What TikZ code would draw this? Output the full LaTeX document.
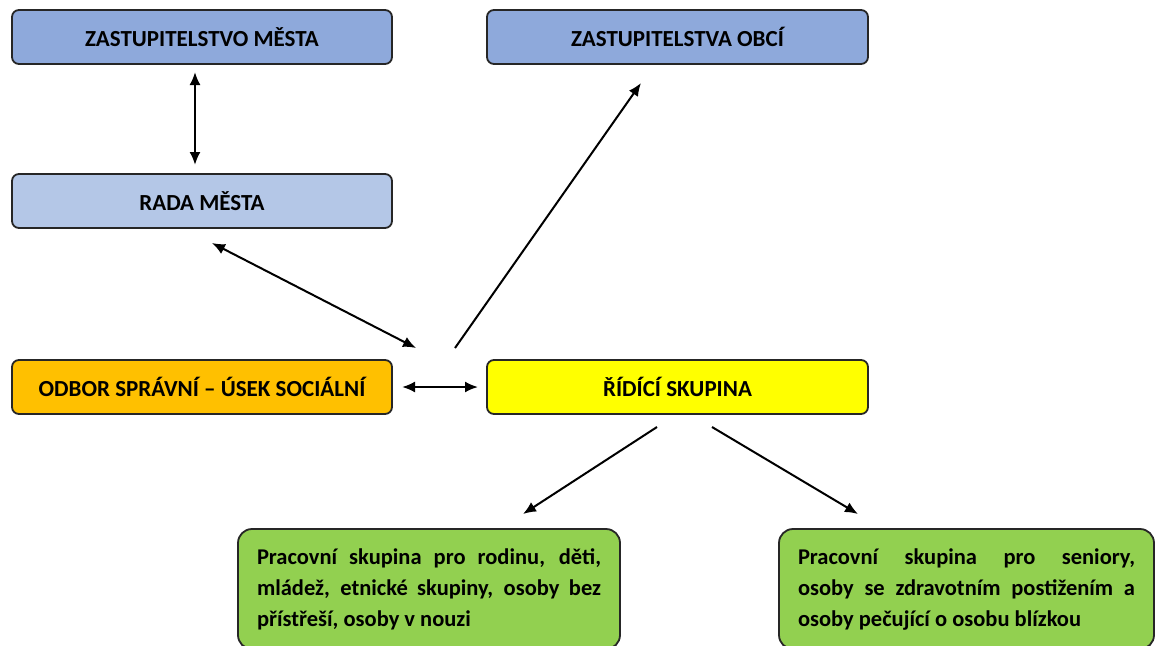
\documentclass[tikz,border=0pt]{standalone}
\usepackage{fontspec}
\setmainfont{Carlito}
\usetikzlibrary{arrows.meta}
\definecolor{modra}{HTML}{8EA9DB}
\definecolor{svmodra}{HTML}{B4C7E7}
\definecolor{oranz}{HTML}{FFC000}
\definecolor{zluta}{HTML}{FFFF00}
\definecolor{zelena}{HTML}{92D050}
\tikzset{
  box/.style={draw=black!85, line width=1.8pt, rounded corners=7pt, minimum height=54pt,
    font=\fontsize{23}{27}\selectfont\bfseries, inner sep=0pt},
  skupina/.style={box, rounded corners=14pt, minimum height=120pt, align=justify,
    font=\fontsize{22.5}{31}\selectfont\bfseries},
  sip/.style={line width=2pt, -{Latex[length=13pt,width=11pt]}},
  sip2/.style={line width=2pt, {Latex[length=13pt,width=11pt]}-{Latex[length=13pt,width=11pt]}}
}
\begin{document}
\begin{tikzpicture}[x=1pt,y=-1pt]
\useasboundingbox (0,0) rectangle (1156,645);
% Zastupitelstva
\node[box, fill=modra, minimum width=380pt] (zm) at (202,37) {ZASTUPITELSTVO MĚSTA};
\node[box, fill=modra, minimum width=381pt] (zo) at (677.5,37) {ZASTUPITELSTVA OBCÍ};
% Rada
\node[box, fill=svmodra, minimum width=380pt] (rada) at (202,201) {RADA MĚSTA};
% Odbor a skupina
\node[box, fill=oranz, minimum width=380pt] (odbor) at (202,387) {ODBOR SPRÁVNÍ – ÚSEK SOCIÁLNÍ};
\node[box, fill=zluta, minimum width=381pt] (ridici) at (677.5,387) {ŘÍDÍCÍ SKUPINA};
% Pracovni skupiny
\node[skupina, fill=zelena, minimum width=382pt, text width=344pt] (prl) at (429,589)
  {Pracovní skupina pro rodinu, děti,\linebreak mládež, etnické skupiny, osoby bez\linebreak přístřeší, osoby v~nouzi};
\node[skupina, fill=zelena, minimum width=375pt, text width=337pt] (prs) at (966.5,589)
  {Pracovní skupina pro seniory,\linebreak osoby se zdravotním postižením a\linebreak osoby pečující o~osobu blízkou};
% Body sipek
\coordinate (a1) at (195,72);
\coordinate (a2) at (195,165);
\coordinate (b1) at (212,243);
\coordinate (b2) at (416,348);
\coordinate (c1) at (455,348);
\coordinate (c2) at (641,83);
\coordinate (d1) at (402,387);
\coordinate (d2) at (478,387);
\coordinate (e1) at (657,427);
\coordinate (e2) at (523,514);
\coordinate (f1) at (712,427);
\coordinate (f2) at (858,514);
% Sipky
\draw[sip2] (a1)--(a2);
\draw[sip2] (b1)--(b2);
\draw[sip] (c1)--(c2);
\draw[sip2] (d1)--(d2);
\draw[sip] (e1)--(e2);
\draw[sip] (f1)--(f2);
\end{tikzpicture}
\end{document}
